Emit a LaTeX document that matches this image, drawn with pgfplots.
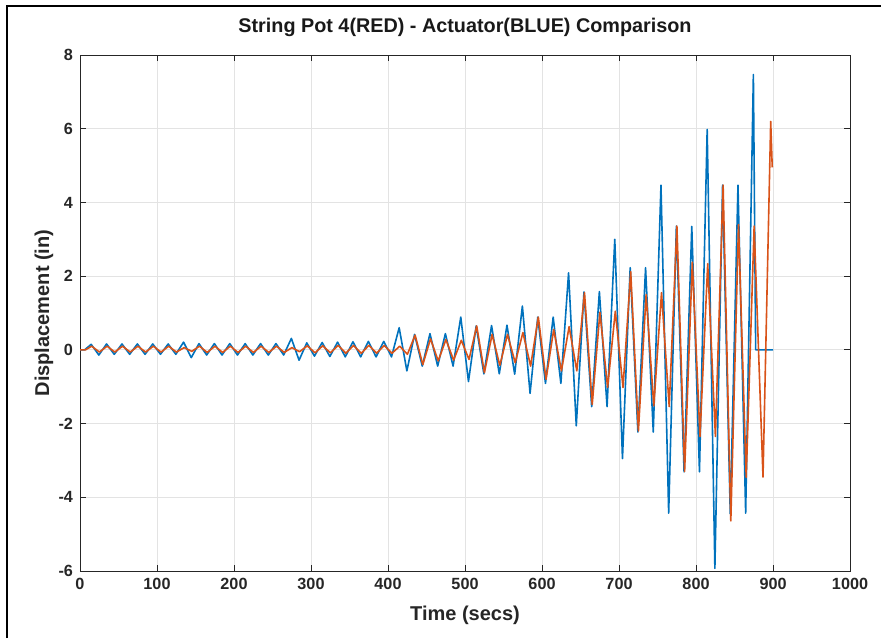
\documentclass[border=0pt]{standalone}
\usepackage{fontspec}
\setmainfont{Liberation Sans}
\usepackage{pgfplots}
\pgfplotsset{compat=1.18}
\definecolor{mblue}{rgb}{0,0.447,0.741}
\definecolor{morange}{rgb}{0.85,0.325,0.098}
\begin{document}
\begin{tikzpicture}
\useasboundingbox (0,0) rectangle (440.5pt,319pt);
\draw[line width=1.1pt,black] (3.5pt,0) -- (3.5pt,316pt) -- (440.5pt,316pt);
\begin{axis}[
  at={(40pt,33.5pt)}, anchor=south west,
  scale only axis, width=385pt, height=258pt,
  xmin=0, xmax=1000, ymin=-6, ymax=8,
  xtick={0,100,...,1000},
  xticklabels={0,100,200,300,400,500,600,700,800,900,1000},
  ytick={-6,-4,...,8},
  yticklabels={-6,-4,-2,0,2,4,6,8},
  grid=major,
  major grid style={gray!22, line width=0.5pt},
  axis line style={black!85, line width=0.5pt},
  tick style={black!85, line width=0.5pt},
  tick align=inside,
  major tick length=2.8pt,
  ticklabel style={font=\fontsize{8.1}{9}\selectfont\bfseries, text=black!85},
  title={String Pot 4(RED) - Actuator(BLUE) Comparison},
  title style={at={([yshift=5.5pt]axis description cs:0.5,1)}, anchor=base, font=\fontsize{9.9}{11}\selectfont\bfseries, text=black!90},
  xlabel={Time (secs)},
  xlabel style={at={([yshift=-24.5pt]axis description cs:0.5,0)}, anchor=base, font=\fontsize{10}{12}\selectfont\bfseries, text=black!85},
  ylabel={Displacement (in)},
  ylabel style={at={([xshift=-15.5pt]axis description cs:0,0.5)}, anchor=base, font=\fontsize{10}{12}\selectfont\bfseries, text=black!85},
  clip=true,
]
\addplot[mblue, line width=0.8pt, line join=round] coordinates {
(0,0) (6,0) (14.5,0.15) (24.5,-0.14)
(34.5,0.16) (44.5,-0.12) (54.5,0.16) (64.5,-0.12) (74.5,0.16) (84.5,-0.12)
(94.5,0.16) (104.5,-0.12) (114.5,0.16) (124.5,-0.12) (134.5,0.21) (144.5,-0.21)
(154.5,0.17) (164.5,-0.14) (174.5,0.17) (184.5,-0.14) (194.5,0.17) (204.5,-0.14)
(214.5,0.17) (224.5,-0.14) (234.5,0.17) (244.5,-0.14) (254.5,0.17) (264.5,-0.14)
(274.5,0.31) (284.5,-0.28) (294.5,0.19) (304.5,-0.17) (314.5,0.20) (324.5,-0.18)
(334.5,0.21) (344.5,-0.19) (354.5,0.22) (364.5,-0.19) (374.5,0.23) (384.5,-0.19)
(394.5,0.23) (404.5,-0.19) (414.5,0.60) (424.5,-0.57) (434.5,0.42) (444.5,-0.44)
(454.5,0.44) (464.5,-0.44) (474.5,0.44) (484.5,-0.44) (494.5,0.89) (504.5,-0.86)
(514.5,0.65) (524.5,-0.65) (534.5,0.66) (544.5,-0.65) (554.5,0.67) (564.5,-0.66)
(574.5,1.19) (584.5,-1.18) (594.5,0.89) (604.5,-0.91) (614.5,0.89) (624.5,-0.91)
(634.5,2.09) (644.5,-2.06) (654.5,1.57) (664.5,-1.54) (674.5,1.58) (684.5,-1.54)
(694.5,3.00) (704.5,-2.95) (714.5,2.23) (724.5,-2.23) (734.5,2.23) (744.5,-2.23)
(754.5,4.47) (764.5,-4.43) (774.5,3.36) (784.5,-3.31) (794.5,3.35) (804.5,-3.31)
(814.5,5.98) (824.5,-5.93) (834.5,4.47) (844.5,-4.45) (854.5,4.47) (864.5,-4.43)
(874.5,7.47) (877.5,0) (900,0)
};
\addplot[morange, line width=0.8pt, line join=round] coordinates {
(0,0) (7,0) (15.2,0.10) (25.2,-0.06)
(35.2,0.10) (45.2,-0.06) (55.2,0.10) (65.2,-0.06) (75.2,0.10) (85.2,-0.06)
(95.2,0.10) (105.2,-0.06) (115.2,0.10) (125.2,-0.06) (135.2,0.06) (145.2,-0.04)
(155.2,0.10) (165.2,-0.07) (175.2,0.10) (185.2,-0.07) (195.2,0.10) (205.2,-0.07)
(215.2,0.10) (225.2,-0.07) (235.2,0.10) (245.2,-0.07) (255.2,0.10) (265.2,-0.07)
(275.2,0.06) (285.2,-0.05) (295.2,0.11) (305.2,-0.08) (315.2,0.11) (325.2,-0.08)
(335.2,0.12) (345.2,-0.09) (355.2,0.12) (365.2,-0.09) (375.2,0.12) (385.2,-0.09)
(395.2,0.12) (405.2,-0.09) (415.2,0.10) (425.2,-0.12) (435.2,0.40) (445.2,-0.40)
(455.2,0.30) (465.2,-0.30) (475.2,0.28) (485.2,-0.28) (495.2,0.26) (505.2,-0.26)
(515.2,0.65) (525.2,-0.62) (535.2,0.42) (545.2,-0.42) (555.2,0.42) (565.2,-0.35)
(575.2,0.47) (585.2,-0.44) (595.2,0.89) (605.2,-0.80) (615.2,0.55) (625.2,-0.57)
(635.2,0.63) (645.2,-0.57) (655.2,1.55) (665.2,-1.48) (675.2,1.02) (685.2,-1.02)
(695.2,1.05) (705.2,-1.02) (715.2,2.12) (725.2,-2.20) (735.2,1.50) (745.2,-1.52)
(755.2,1.55) (765.2,-1.54) (775.2,3.36) (785.2,-3.30) (795.2,2.38) (805.2,-2.35)
(815.2,2.34) (825.2,-2.35) (835.2,4.47) (845.2,-4.64) (855.2,3.40) (865.2,-3.46)
(875.5,3.36) (887,-3.45) (897,6.20) (899,4.95)
};
\end{axis}
\end{tikzpicture}
\end{document}
